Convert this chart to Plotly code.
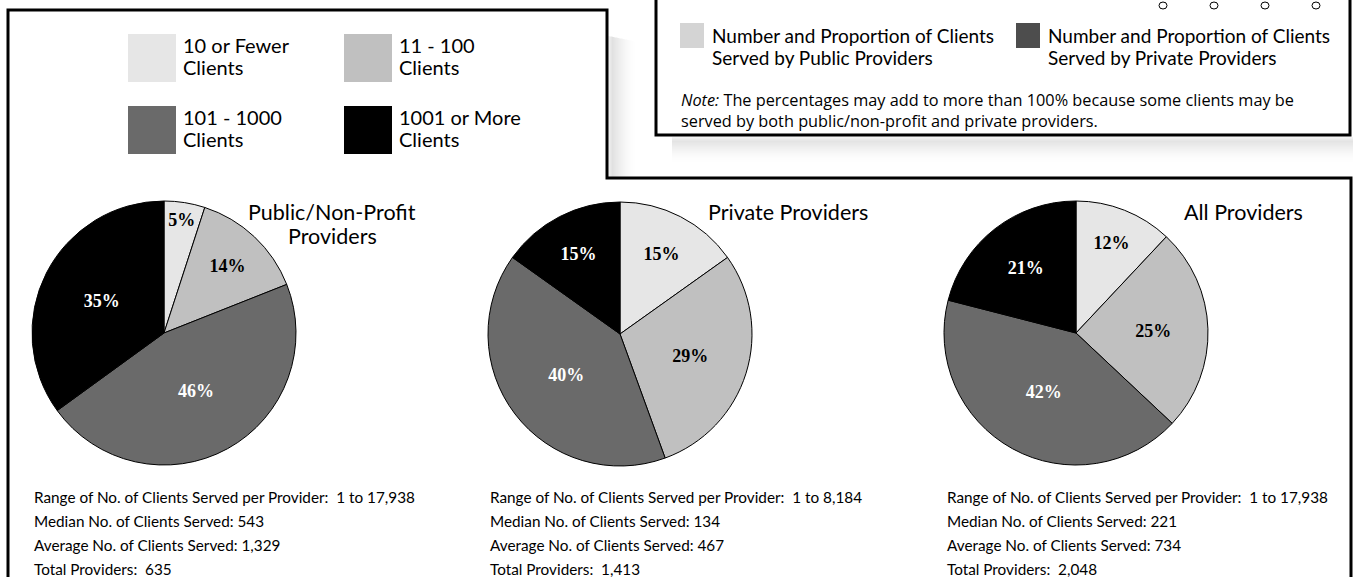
import plotly.graph_objects as go

W, H = 1353, 577

# ---- data -------------------------------------------------------------
categories = ["10 or Fewer Clients", "11 - 100 Clients", "101 - 1000 Clients", "1001 or More Clients"]
legend_line1 = ["10 or Fewer", "11 - 100", "101 - 1000", "1001 or More"]
legend_line2 = ["Clients", "Clients", "Clients", "Clients"]

pie_title_line1 = ["Public/Non-Profit", "Private Providers", "All Providers"]
pie_title_line2 = ["Providers", "", ""]
public_pct = [5, 14, 46, 35]
private_pct = [15, 29, 40, 15]
all_pct = [12, 25, 42, 21]

range_max = ["17,938", "8,184", "17,938"]
median_clients = ["543", "134", "221"]
average_clients = ["1,329", "467", "734"]
total_providers = ["635", "1,413", "2,048"]

served_line1 = ["Number and Proportion of Clients", "Number and Proportion of Clients"]
served_line2 = ["Served by Public Providers", "Served by Private Providers"]
note_text = ("<i>Note:</i> The percentages may add to more than 100% because some clients may be<br>"
             "served by both public/non-profit and private providers.")

# ---- styles -----------------------------------------------------------
slice_colors = ["#e6e6e6", "#c0c0c0", "#6a6a6a", "#000000"]
label_colors = ["#000000", "#000000", "#ffffff", "#ffffff"]
served_colors = ["#d4d4d4", "#4d4d4d"]
SANS = "Lato, 'Open Sans', sans-serif"
NOTE_FONT = "'Open Sans', Lato, sans-serif"
SERIF = "'Liberation Serif', 'DejaVu Serif', serif"

fig = go.Figure()

# pies: centre (px) and radius
pie_centers = [(164, 333), (620, 334), (1076, 333)]
R = 132
title_x = [332, 788, 1243]
stats_x = [32, 488, 945]

for vals, (cx, cy), name in zip([public_pct, private_pct, all_pct], pie_centers, pie_title_line1):
    fig.add_trace(go.Pie(
        labels=categories,
        values=vals,
        text=[f"{v}%" for v in vals],
        textinfo="text",
        textposition="inside",
        insidetextorientation="horizontal",
        textfont=dict(family=SERIF, size=18, weight="bold", color=label_colors),
        sort=False,
        direction="clockwise",
        rotation=0,
        marker=dict(colors=slice_colors, line=dict(color="#000000", width=1)),
        domain=dict(x=[(cx - R) / W, (cx + R) / W], y=[1 - (cy + R) / H, 1 - (cy - R) / H]),
        showlegend=False,
        hoverinfo="label+percent",
        name=name,
    ))

shapes = []
annotations = []


def text_at(x, y, txt, size, family=SANS, xanchor="left"):
    annotations.append(dict(x=x, y=y, xref="x", yref="y", text=txt, showarrow=False,
                            xanchor=xanchor, yanchor="middle", align="left",
                            font=dict(family=family, size=size, color="#000000")))


# soft shadow right of the category-legend panel
for i in range(28):
    t = i / 27
    a = 0.28 * (1 - t) ** 1.5 * min(1.0, (i + 2) / 6)
    shapes.append(dict(type="rect", xref="x", yref="y", x0=608 + i, x1=609 + i, y0=36 + i * 0.2, y1=177,
                       fillcolor=f"rgba(120,120,120,{a:.3f})", line=dict(width=0), layer="below"))
# soft shadow below the note panel
for i in range(26):
    t = i / 25
    a = 0.26 * (1 - t) ** 1.5 * min(1.0, (i + 2) / 6)
    shapes.append(dict(type="rect", xref="x", yref="y", x0=672, x1=W, y0=137 + i, y1=138 + i,
                       fillcolor=f"rgba(120,120,120,{a:.3f})", line=dict(width=0), layer="below"))

# outer frame: legend panel joined to the chart panel
shapes.append(dict(type="path", xref="x", yref="y",
                   path=f"M 8 {H + 5} L 8 10 L 607 10 L 607 178 L 1351 178 L 1351 {H + 5}",
                   line=dict(color="#000000", width=3)))
# note panel frame
shapes.append(dict(type="path", xref="x", yref="y",
                   path="M 656 -5 L 656 135 L 1350 135 L 1350 -5",
                   fillcolor="#ffffff", line=dict(color="#000000", width=3)))
# small rings along the top edge
for rx in [1163, 1214, 1265, 1316]:
    shapes.append(dict(type="circle", xref="x", yref="y", x0=rx - 4, x1=rx + 4, y0=2, y1=9,
                       line=dict(color="#000000", width=1), fillcolor="#ffffff"))

# category legend (2 x 2)
leg_pos = [(128, 34), (344, 34), (128, 106), (344, 106)]
for (lx, ly), col, l1, l2 in zip(leg_pos, slice_colors, legend_line1, legend_line2):
    shapes.append(dict(type="rect", xref="x", yref="y", x0=lx, x1=lx + 48, y0=ly, y1=ly + 48,
                       fillcolor=col, line=dict(width=0)))
    text_at(lx + 53, ly + 11, l1, 20)
    text_at(lx + 53, ly + 33, l2, 20)

# served-by legend in the note panel
for sx, col, t1, t2 in zip([680, 1016], served_colors, served_line1, served_line2):
    shapes.append(dict(type="rect", xref="x", yref="y", x0=sx, x1=sx + 24, y0=23, y1=48,
                       fillcolor=col, line=dict(width=0)))
    text_at(sx + 30, 35, t1, 19)
    text_at(sx + 30, 57, t2, 19)
text_at(679, 110, note_text, 16.3, family=NOTE_FONT)

# pie titles and summary statistics
for i in range(3):
    text_at(title_x[i], 212, pie_title_line1[i], 21.5, xanchor="center")
    if pie_title_line2[i]:
        text_at(title_x[i], 236, pie_title_line2[i], 21.5, xanchor="center")
    lines = [f"Range of No. of Clients Served per Provider:  1 to {range_max[i]}",
             f"Median No. of Clients Served: {median_clients[i]}",
             f"Average No. of Clients Served: {average_clients[i]}",
             f"Total Providers:  {total_providers[i]}"]
    for j, ln in enumerate(lines):
        text_at(stats_x[i], 497 + 24 * j, ln, 15.3)

fig.update_layout(
    width=W, height=H,
    margin=dict(l=0, r=0, t=0, b=0),
    paper_bgcolor="#ffffff", plot_bgcolor="#ffffff",
    xaxis=dict(range=[0, W], visible=False, fixedrange=True, domain=[0, 1]),
    yaxis=dict(range=[H, 0], visible=False, fixedrange=True, domain=[0, 1]),
    shapes=shapes, annotations=annotations,
)

fig.write_html("out.html")
